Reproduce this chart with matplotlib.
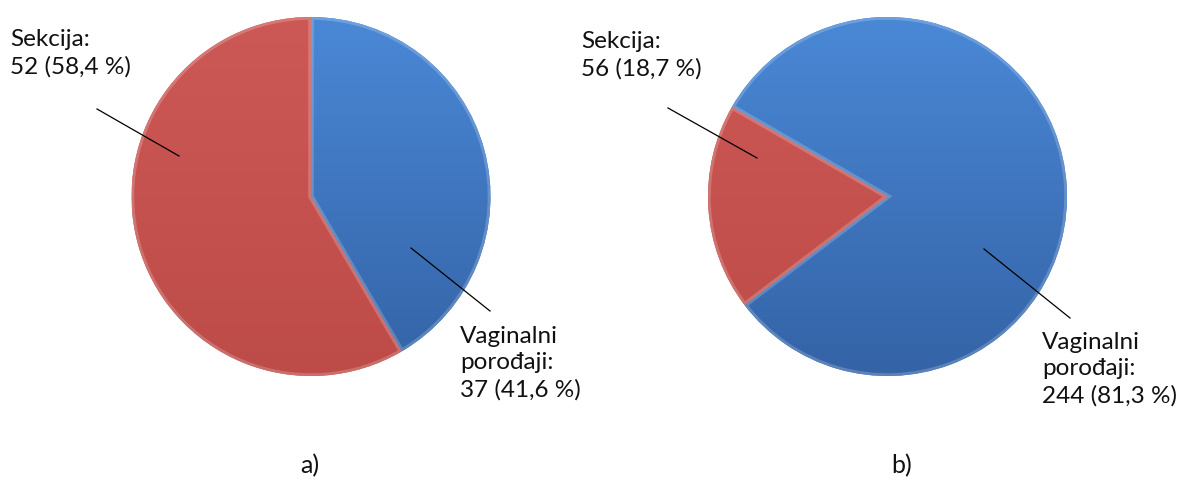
import numpy as np
import matplotlib
matplotlib.use("Agg")
import matplotlib.pyplot as plt
from matplotlib.colors import LinearSegmentedColormap

# data
categories = ["Vaginalni\nporođaji", "Sekcija"]
counts_a = [37, 52]
counts_b = [244, 56]
panel_labels = ["a)", "b)"]

plt.rcParams["font.family"] = ["Lato", "DejaVu Sans"]

W, H = 1181, 482
fig = plt.figure(figsize=(W / 100, H / 100), dpi=100)
ax = fig.add_axes([0, 0, 1, 1])
ax.set_xlim(0, W)
ax.set_ylim(0, H)
ax.axis("off")

blue_cm = LinearSegmentedColormap.from_list("b", ["#3463a6", "#4a88d6"])
red_cm = LinearSegmentedColormap.from_list("r", ["#bd4b48", "#cd5956"])
grad = np.linspace(0, 1, 256).reshape(-1, 1)

def fmt(n, total):
    return "{} ({} %)".format(n, ("%.1f" % (100.0 * n / total)).replace(".", ","))

def draw_pie(counts, center, radius, start, labels_pos, lines, panel, panel_pos):
    cx, cy = center[0], H - center[1]
    wedges, _ = ax.pie(counts, center=(cx, cy), radius=radius, startangle=start,
                       counterclock=False, colors=["#4a88d6", "#cd5956"],
                       wedgeprops=dict(linewidth=0), frame=True)
    for w, cm in zip(wedges, [blue_cm, red_cm]):
        im = ax.imshow(grad, extent=[cx - radius, cx + radius, cy - radius, cy + radius],
                       cmap=cm, origin="lower", aspect="auto", zorder=2)
        im.set_clip_path(w)
        # soft bevel highlight along edges
        ax.add_patch(matplotlib.patches.Wedge((cx, cy), radius, w.theta1, w.theta2,
                                              facecolor="none", edgecolor="white",
                                              alpha=0.2, lw=4, zorder=3, clip_path=w))
    total = sum(counts)
    for name, n, (tx, ty), ((x0, y0), (x1, y1)) in zip(categories, counts, labels_pos, lines):
        ax.text(tx, H - ty, name + ":\n" + fmt(n, total), fontsize=17.5, color="#111111",
                ha="left", va="top", linespacing=1.32, zorder=5)
        ax.plot([x0, x1], [H - y0, H - y1], color="black", lw=0.9, zorder=4)
    ax.text(panel_pos[0], H - panel_pos[1], panel, fontsize=18, color="#111111",
            ha="center", va="center")

draw_pie(counts_a, (311, 196.5), 179.5, 90,
         [(460, 326), (10, 29)],
         [((411, 248), (490, 311)), ((97, 109), (179, 156))],
         panel_labels[0], (310, 466))
draw_pie(counts_b, (887.5, 196.5), 179.5, 150,
         [(1042, 332), (581, 31)],
         [((984, 249), (1070, 318)), ((668, 108), (757, 158))],
         panel_labels[1], (902, 466))

ax.set_xlim(0, W)
ax.set_ylim(0, H)
ax.set_aspect("auto")
fig.savefig("out.png", dpi=100)
